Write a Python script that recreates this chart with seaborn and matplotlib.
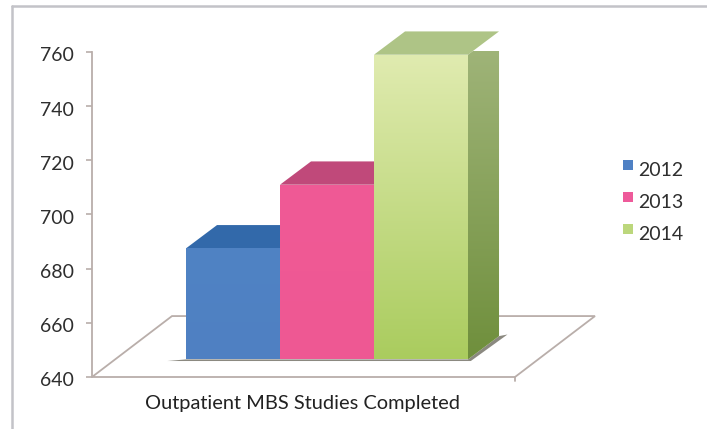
import numpy as np
import pandas as pd
import matplotlib
matplotlib.use('Agg')
import matplotlib.pyplot as plt
from matplotlib.patches import Polygon, Rectangle
from matplotlib.colors import LinearSegmentedColormap
from matplotlib.lines import Line2D
from matplotlib.transforms import ScaledTranslation
import seaborn as sns

# Values
years = ['2012', '2013', '2014']
studies = [687.5, 711, 759]
base_value = 646.5
y_ticks = [640, 660, 680, 700, 720, 740, 760]
x_label = 'Outpatient MBS Studies Completed'

# colours: front gradient (top, bottom), top face, side gradient (top, bottom)
front_colors = [('#5083c4', '#4f80c2'), ('#f05a96', '#ee5893'), ('#e0ebb0', '#aacc5e')]
top_colors = ['#3269aa', '#c0497a', '#aec486']
side_colors = [('#3a6aa5', '#3a6aa5'), ('#b8477a', '#b8477a'), ('#a2b67c', '#6f8f3c')]
legend_colors = ['#4f81c4', '#ee5a9a', '#bcd77c']

sns.set_style('white')
plt.rcParams['font.family'] = ['Lato', 'DejaVu Sans']
text_color = '#2e2e2e'
axis_color = '#b9aeaa'

W, H = 707, 429
fig = plt.figure(figsize=(W / 100, H / 100), dpi=100, facecolor='white')
ax = fig.add_axes([92 / W, 1 - 377 / H, (595 - 92) / W, (377 - 52) / H])

df = pd.DataFrame({'year': years, 'studies': studies})
sns.barplot(data=df, x='year', y='studies', hue='year', palette=legend_colors,
            width=1, legend=False, saturation=1, ax=ax)

ax.set_xlim(-1.5, 3.851)
ax.set_ylim(640, 760)
ax.set_xlabel('')
ax.set_ylabel('')
ax.set_xticks([])
ax.set_yticks(y_ticks)
ax.tick_params(axis='y', left=True, length=4, width=1.2, color=axis_color,
               labelsize=14, labelcolor=text_color, pad=9)
sns.despine(ax=ax, top=True, right=True, bottom=True)
ax.spines['left'].set_color(axis_color)
ax.spines['left'].set_linewidth(1.3)

# tick labels sit a little below their ticks in the original
shift = ScaledTranslation(0, -2.5 / 100, fig.dpi_scale_trans)
for label in ax.get_yticklabels():
    label.set_transform(label.get_transform() + shift)

# 3D depth of the boxes in data units
dx, dy = 0.33, 8.6


def gradient(ax, pts, c_top, c_bottom, zorder):
    cmap = LinearSegmentedColormap.from_list('g', [c_top, c_bottom])
    pts = np.array(pts)
    poly = Polygon(pts, closed=True, facecolor='none', edgecolor='none', transform=ax.transData)
    ax.add_patch(poly)
    im = ax.imshow(np.linspace(0, 1, 256).reshape(-1, 1), cmap=cmap, aspect='auto',
                   extent=(pts[:, 0].min(), pts[:, 0].max(), pts[:, 1].min(), pts[:, 1].max()),
                   zorder=zorder, clip_on=True)
    im.set_clip_path(poly)


# floor
x0, x1 = -1.5, 3.0
fx = [x0, x1, x1 + 0.851, x0 + 0.851]
fy = [640, 640, 662.5, 662.5]
ax.add_patch(Polygon(list(zip(fx, fy)), closed=True, facecolor='white', edgecolor=axis_color,
                     linewidth=1.3, zorder=1, clip_on=False))
ax.add_line(Line2D([x1, x1], [640, 638.5], color=axis_color, linewidth=1.3, zorder=1, clip_on=False))

bars = list(ax.patches)
bars = [b for b in bars if isinstance(b, Rectangle)][:len(years)]

# shadow under the row of boxes
left = bars[0].get_x()
right = bars[-1].get_x() + bars[-1].get_width()
ax.add_patch(Polygon([(left - 0.2, base_value - 0.6), (right + 0.03, base_value - 0.6),
                      (right + dx + 0.09, base_value + dy + 0.6), (right + dx, base_value + dy),
                      (right, base_value), (left, base_value)],
                     closed=True, facecolor='#77756a', edgecolor='none', zorder=2, alpha=0.85))

for i, bar in enumerate(bars):
    xl = bar.get_x()
    xr = xl + bar.get_width()
    top = studies[i]
    bar.set_y(base_value)
    bar.set_height(top - base_value)
    bar.set_zorder(3 + 4 * i)
    bar.set_linewidth(0)
    z = 3 + 4 * i
    # top face
    ax.add_patch(Polygon([(xl, top), (xr, top), (xr + dx, top + dy), (xl + dx, top + dy)],
                         closed=True, facecolor=top_colors[i], edgecolor='none',
                         zorder=z, clip_on=False))
    # side face
    side = [(xr, base_value), (xr + dx, base_value + dy), (xr + dx, top + dy), (xr, top)]
    gradient(ax, side, side_colors[i][0], side_colors[i][1], z + 1)
    # front face
    gradient(ax, [(xl, base_value), (xr, base_value), (xr, top), (xl, top)],
             front_colors[i][0], front_colors[i][1], z + 2)

ax.set_xlim(-1.5, 3.851)
ax.set_ylim(640, 760)
ax.set_zorder(2)
ax.patch.set_alpha(0)

# the green box pokes above the 760 line, so let the images draw past the axes
for art in ax.images:
    art.set_clip_box(None)

# category label
fig.text(302.5 / W, 1 - 403.5 / H, x_label, ha='center', va='center', fontsize=14.4, color='#222222')

# legend
for i, year in enumerate(years):
    y_px = 165 + 32 * i
    fig.patches.append(Rectangle((623 / W, 1 - (y_px + 5) / H), 10 / W, 10 / H, facecolor=legend_colors[i],
                                 edgecolor='none', transform=fig.transFigure))
    fig.text(638 / W, 1 - (y_px + 5.5) / H, year, ha='left', va='center', fontsize=14, color=text_color)

# outer frame, left and top sides only
fig.add_artist(Line2D([12 / W, 12 / W], [0, 1 - 5.5 / H], color='#c3c3c8', linewidth=1.8))
fig.add_artist(Line2D([12 / W, 1], [1 - 5.5 / H, 1 - 5.5 / H], color='#c3c3c8', linewidth=1.8))

fig.savefig('out.png', dpi=100)
